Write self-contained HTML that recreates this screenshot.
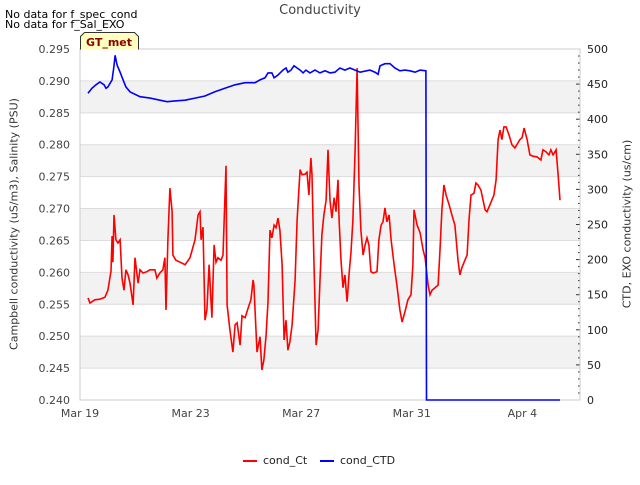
<!DOCTYPE html>
<html><head><meta charset="utf-8"><style>
body{margin:0;background:#fff;font-family:"Liberation Sans","DejaVu Sans",sans-serif}
svg text{font-family:"DejaVu Sans","Liberation Sans",sans-serif}
</style></head><body>
<svg id="c" width="640" height="480" viewBox="0 0 640 480"></svg>
<script>
const redDays=[0.29,0.36,0.54,0.72,0.90,1.01,1.12,1.16,1.19,1.23,1.30,1.37,1.45,1.52,1.59,1.66,1.74,1.81,1.92,1.99,2.10,2.17,2.28,2.42,2.53,2.71,2.78,2.89,3.00,3.07,3.11,3.18,3.25,3.33,3.36,3.47,3.62,3.80,3.98,4.16,4.27,4.34,4.38,4.45,4.52,4.59,4.67,4.77,4.85,4.92,4.99,5.10,5.17,5.28,5.32,5.42,5.53,5.61,5.68,5.79,5.86,5.97,6.08,6.18,6.26,6.29,6.40,6.51,6.58,6.65,6.73,6.80,6.87,6.94,7.02,7.09,7.16,7.23,7.31,7.38,7.45,7.52,7.59,7.67,7.78,7.85,7.96,8.03,8.14,8.21,8.28,8.35,8.39,8.46,8.54,8.61,8.68,8.75,8.82,8.90,8.97,9.04,9.11,9.19,9.26,9.33,9.37,9.44,9.51,9.58,9.66,9.73,9.80,9.87,9.95,10.02,10.09,10.16,10.24,10.31,10.38,10.45,10.52,10.60,10.74,10.81,10.89,10.96,11.03,11.10,11.18,11.25,11.36,11.46,11.57,11.65,11.75,11.86,11.97,12.04,12.08,12.19,12.30,12.41,12.48,12.59,12.66,12.73,12.84,12.95,13.02,13.09,13.16,13.24,13.35,13.45,13.56,13.67,13.74,13.81,13.92,14.00,14.07,14.14,14.25,14.32,14.39,14.50,14.65,14.72,14.83,14.97,15.05,15.12,15.19,15.26,15.33,15.41,15.52,15.62,15.73,15.91,15.99,16.06,16.17,16.27,16.38,16.53,16.67,16.74,16.85,16.96,17.03,17.11,17.22,17.29,17.36];
const redVals=[.2560,.2552,.2557,.2558,.2561,.2572,.2602,.2657,.2616,.2690,.2651,.2646,.2651,.2591,.2572,.2604,.2596,.2583,.2549,.2623,.2583,.2604,.2599,.2601,.2604,.2604,.2591,.2599,.2604,.2623,.2541,.2651,.2732,.2695,.2627,.2619,.2616,.2612,.2623,.2651,.2690,.2695,.2651,.2671,.2525,.2541,.2612,.2529,.2643,.2616,.2623,.2619,.2627,.2767,.2549,.2510,.2475,.2518,.2521,.2486,.2532,.2529,.2544,.2557,.2588,.2580,.2475,.2499,.2447,.2463,.2502,.2554,.2666,.2654,.2674,.2670,.2685,.2666,.2612,.2494,.2525,.2478,.2491,.2518,.2588,.2682,.2761,.2753,.2754,.2757,.2721,.2779,.2753,.2619,.2486,.2510,.2588,.2659,.2690,.2713,.2792,.2713,.2685,.2717,.2695,.2745,.2682,.2619,.2576,.2596,.2554,.2596,.2632,.2682,.2792,.2920,.2737,.2666,.2627,.2643,.2654,.2643,.2601,.2599,.2601,.2651,.2674,.2679,.2701,.2679,.2690,.2651,.2612,.2580,.2541,.2522,.2538,.2557,.2565,.2612,.2698,.2674,.2662,.2635,.2623,.2580,.2565,.2572,.2576,.2580,.2635,.2698,.2737,.2721,.2706,.2690,.2674,.2619,.2596,.2607,.2619,.2627,.2682,.2721,.2724,.2740,.2737,.2729,.2698,.2695,.2706,.2721,.2745,.2808,.2823,.2808,.2828,.2828,.2815,.2800,.2795,.2808,.2811,.2826,.2808,.2784,.2782,.2781,.2776,.2792,.2789,.2784,.2792,.2784,.2792,.2753,.2713];
const blueDays=[0.29,0.43,0.58,0.72,0.87,0.94,1.01,1.16,1.23,1.27,1.34,1.45,1.56,1.66,1.81,2.17,2.53,2.89,3.15,3.44,3.80,4.16,4.52,4.88,5.24,5.61,5.97,6.33,6.51,6.69,6.80,6.94,7.02,7.16,7.34,7.45,7.52,7.63,7.74,7.85,7.96,8.07,8.17,8.32,8.50,8.68,8.86,9.04,9.22,9.40,9.58,9.76,9.95,10.13,10.49,10.67,10.78,10.85,11.03,11.21,11.39,11.57,11.75,11.93,12.12,12.30,12.51,12.53,17.36];
const blueVals=[437,444,449,453,449,444,446,456,476,491,477,467,456,446,439,432,430,427,425,426,427,430,433,439,444,449,452,452,456,459,466,466,459,463,470,473,467,470,476,473,470,466,470,466,470,466,469,466,467,473,470,473,470,467,470,467,464,476,479,479,473,469,470,469,467,470,469,0,0];
const leftTicks=[0.240,0.245,0.250,0.255,0.260,0.265,0.270,0.275,0.280,0.285,0.290,0.295];
const rightTicks=[0,50,100,150,200,250,300,350,400,450,500];
const xTickDays=[0,4,8,12,16];
const xTickLabels=["Mar 19","Mar 23","Mar 27","Mar 31","Apr 4"];

const L=80,R=580,T=49,B=400,X0=0,X1=(580-80)/27.65;
const xs=d=>L+(d-X0)/(X1-X0)*(R-L);
const yl=v=>B-(v-0.240)/(0.295-0.240)*(B-T);
const yr=v=>B-v/500*(B-T);
const svg=document.getElementById('c');
const NS='http://www.w3.org/2000/svg';
function mk(tag,at,parent){const e=document.createElementNS(NS,tag);for(const k in at)e.setAttribute(k,at[k]);(parent||svg).appendChild(e);return e;}
for(let i=0;i<leftTicks.length-1;i++){
  if(i%2===1){const b=mk('rect',{x:L,y:yl(leftTicks[i+1]),width:R-L,height:yl(leftTicks[i])-yl(leftTicks[i+1]),fill:'#f2f2f2'});
  
  }
}
leftTicks.forEach(v=>{
  const g=mk('line',{x1:L,x2:R,y1:yl(v),y2:yl(v),stroke:'#dcdcdc','stroke-width':1});
  
  
  const t=mk('text',{x:L-10,y:yl(v)+4,'text-anchor':'end','font-size':11,fill:'#444'});
  t.textContent=v.toFixed(3);
  
  
});
rightTicks.forEach(v=>{
  const t=mk('text',{x:587,y:yr(v)+4,'font-size':11,fill:'#222'});
  t.textContent=v;
  
  
  mk('line',{x1:R-4,x2:R,y1:yr(v),y2:yr(v),stroke:'#333'});
});
for(let v=10;v<500;v+=10){if(v%50)mk('line',{x1:R-2,x2:R,y1:yr(v),y2:yr(v),stroke:'#333'});}
xTickDays.forEach((d,i)=>{
  const t=mk('text',{x:xs(d),y:417,'text-anchor':'middle','font-size':11,fill:'#444'});
  t.textContent=xTickLabels[i];
  
  
});
const fr=mk('rect',{x:L,y:T,width:R-L,height:B-T,fill:'none',stroke:'#ccc'});


const red=mk('polyline',{points:redDays.map((d,i)=>xs(d).toFixed(1)+','+yl(redVals[i]).toFixed(1)).join(' '),fill:'none',stroke:'#ff0000','stroke-width':1.6});


const blue=mk('polyline',{points:blueDays.map((d,i)=>xs(d).toFixed(1)+','+yr(blueVals[i]).toFixed(1)).join(' '),fill:'none',stroke:'#0000ff','stroke-width':1.6});


const badge=mk('path',{d:'M80.5,49.5 L80.5,36.5 L84.5,32.5 L134.5,32.5 L138.5,36.5 L138.5,49.5',fill:'#ffffc0',stroke:'#333','stroke-width':1});


const bt=mk('text',{x:109,y:46,'text-anchor':'middle','font-size':11,'font-weight':'bold',fill:'#8b0000'});
bt.textContent='GT_met';


</script>
<div style="position:absolute;left:0;top:0;width:640px;height:480px;pointer-events:none;font-family:'DejaVu Sans','Liberation Sans',sans-serif">
  <div style="position:absolute;left:0;width:640px;top:3px;text-align:center;font-size:13px;color:#444">Conductivity</div>
  <div style="position:absolute;left:5px;top:8px;font-size:11px;color:#000">No data for f_spec_cond</div>
  <div style="position:absolute;left:5px;top:18px;font-size:11px;color:#000">No data for f_Sal_EXO</div>
  <div style="position:absolute;left:14px;top:224px;width:0;height:0"><div style="position:absolute;transform:translate(-50%,-50%) rotate(-90deg);white-space:nowrap;font-size:11px;color:#333">Campbell conductivity (uS/m3), Salinity (PSU)</div></div>
  <div style="position:absolute;left:627px;top:224px;width:0;height:0"><div style="position:absolute;transform:translate(-50%,-50%) rotate(-90deg);white-space:nowrap;font-size:11px;color:#333">CTD, EXO conductivity (us/cm)</div></div>
  <div style="position:absolute;left:243px;top:454px;font-size:11px;color:#222"><span style="display:inline-block;width:14px;height:2px;background:#f00;vertical-align:middle;margin-right:6px"></span>cond_Ct</div>
  <div style="position:absolute;left:320px;top:454px;font-size:11px;color:#222"><span style="display:inline-block;width:14px;height:2px;background:#00f;vertical-align:middle;margin-right:6px"></span>cond_CTD</div>
</div>
</body></html>
